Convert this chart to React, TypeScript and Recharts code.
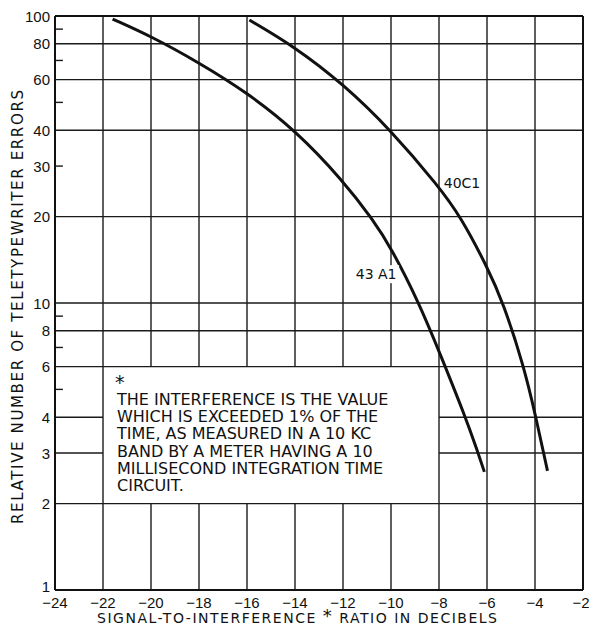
import React from 'react';
import { LineChart, Line, XAxis, YAxis, ReferenceLine, ReferenceArea, ReferenceDot } from 'recharts';

// 43 A1 curve
const A1_X = [-21.6, -20, -18, -16, -14, -12, -10.75, -10, -8.83, -8, -6.92, -6.4, -6.11];
const A1_Y = [97.6, 85, 68.8, 54.1, 40.1, 26.7, 19.5, 15.6, 10, 6.8, 4.05, 3.05, 2.58];

// 40 C1 curve
const C1_X = [-15.9, -14, -12, -10, -8, -7.1, -6, -5.32, -4.46, -4, -3.48];
const C1_Y = [96.8, 78, 58, 40, 25.4, 20, 13.4, 10, 6, 4.13, 2.6];

const X_TICKS = [-24, -22, -20, -18, -16, -14, -12, -10, -8, -6, -4, -2];
const Y_TICKS = [1, 2, 3, 4, 6, 8, 10, 20, 30, 40, 60, 80, 100];
const Y_MINOR = [5, 7, 9, 30, 50, 70, 90];
const Y_GRID_FULL = [2, 6, 8, 10, 20, 40, 60, 80];
const Y_GRID_PARTIAL = [3, 4];
const X_GRID_FULL = [-22, -8, -6, -4];
const X_GRID_SPLIT = [-20, -18, -16, -14, -12, -10];

const NOTE_LINES = [
  'THE INTERFERENCE IS THE VALUE',
  'WHICH IS EXCEEDED 1% OF THE',
  'TIME, AS MEASURED IN A 10 KC',
  'BAND BY A METER HAVING A 10',
  'MILLISECOND INTEGRATION TIME',
  'CIRCUIT.',
];

const a1Data = A1_X.map((x, i) => ({ x, y: A1_Y[i] }));
const c1Data = C1_X.map((x, i) => ({ x, y: C1_Y[i] }));

const FONT = '"Liberation Sans", Arial, sans-serif';
const WIDE = '"DejaVu Sans", sans-serif';
const INK = '#111';
const GRID = { stroke: '#1a1a1a', strokeWidth: 1.4 };

const fmtX = (v: number) => (v < 0 ? `\u2212${Math.abs(v)}` : String(v));

function renderYTick({ x, y, payload }: any) {
  // the "1" sits on the bottom frame, lifted above the x labels
  const ty = payload.value === 1 ? y - 4 : y;
  return (
    <text x={x} y={ty} textAnchor="end" dominantBaseline="central" fontFamily={FONT} fontSize={15} fill={INK}>
      {payload.value}
    </text>
  );
}

function renderNote({ viewBox }: any) {
  const { x, y } = viewBox;
  return (
    <g fontFamily={WIDE} fill={INK}>
      <text x={x + 12} y={y + 22} fontSize={19}>*</text>
      {NOTE_LINES.map((line, i) => (
        <text key={i} x={x + 14} y={y + 38 + i * 17.3} fontSize={16}>
          {line}
        </text>
      ))}
    </g>
  );
}

const curveLabel = (text: string, bg: boolean) => ({ viewBox }: any) => {
  const { x, y } = viewBox;
  return (
    <g>
      {bg && <rect x={x - 23} y={y - 9} width={46} height={18} fill="#fff" />}
      <text x={x} y={y} textAnchor="middle" dominantBaseline="central" fontFamily={WIDE} fontSize={14} fill={INK}>
        {text}
      </text>
    </g>
  );
};

export default function App() {
  return (
    <div style={{ position: 'absolute', left: 0, top: 0, width: 589, height: 626, background: '#fff' }}>
      <LineChart width={589} height={626} margin={{ top: 16, right: 6, bottom: 6, left: 0 }}>
        <XAxis
          type="number"
          dataKey="x"
          domain={[-24, -2]}
          ticks={X_TICKS}
          tickFormatter={fmtX}
          allowDataOverflow
          axisLine={false}
          tickLine={false}
          tickSize={0}
          tickMargin={7}
          height={30}
          tick={{ fontSize: 15, fill: INK, fontFamily: FONT }}
        />
        <YAxis
          type="number"
          dataKey="y"
          scale="log"
          domain={[1, 100]}
          ticks={Y_TICKS}
          allowDataOverflow
          axisLine={false}
          tickLine={false}
          tickSize={0}
          tickMargin={5}
          width={55}
          tick={renderYTick}
        />

        {/* grid */}
        {Y_GRID_FULL.map((v) => <ReferenceLine key={`h${v}`} y={v} {...GRID} />)}
        {Y_GRID_PARTIAL.map((v) => (
          <ReferenceLine key={`hl${v}`} segment={[{ x: -24, y: v }, { x: -22, y: v }]} {...GRID} />
        ))}
        {Y_GRID_PARTIAL.map((v) => (
          <ReferenceLine key={`hr${v}`} segment={[{ x: -8, y: v }, { x: -2, y: v }]} {...GRID} />
        ))}
        {X_GRID_FULL.map((v) => <ReferenceLine key={`v${v}`} x={v} {...GRID} />)}
        {X_GRID_SPLIT.map((v) => (
          <ReferenceLine key={`vb${v}`} segment={[{ x: v, y: 1 }, { x: v, y: 2 }]} {...GRID} />
        ))}
        {X_GRID_SPLIT.map((v) => (
          <ReferenceLine key={`vt${v}`} segment={[{ x: v, y: 6 }, { x: v, y: 100 }]} {...GRID} />
        ))}
        {Y_MINOR.map((v) => (
          <ReferenceLine key={`m${v}`} segment={[{ x: -24, y: v }, { x: -23.67, y: v }]} {...GRID} />
        ))}

        {/* frame */}
        <ReferenceLine x={-24} stroke={INK} strokeWidth={2} />
        <ReferenceLine x={-2} stroke={INK} strokeWidth={2} />
        <ReferenceLine y={1} stroke={INK} strokeWidth={2} />
        <ReferenceLine y={100} stroke={INK} strokeWidth={2} />

        {/* footnote box */}
        <ReferenceArea x1={-22} x2={-8} y1={2} y2={6} fill="none" stroke="none" label={renderNote} />

        <Line data={a1Data} dataKey="y" type="basis" stroke={INK} strokeWidth={3} dot={false} activeDot={false} isAnimationActive={false} />
        <Line data={c1Data} dataKey="y" type="basis" stroke={INK} strokeWidth={3} dot={false} activeDot={false} isAnimationActive={false} />

        <ReferenceDot x={-10.62} y={12.6} r={0} label={curveLabel('43 A1', true)} />
        <ReferenceDot x={-7.04} y={26.2} r={0} label={curveLabel('40C1', false)} />
      </LineChart>

      <svg width={589} height={626} style={{ position: 'absolute', left: 0, top: 0, pointerEvents: 'none' }}>
        <text
          transform="translate(18,307) rotate(-90)"
          textAnchor="middle"
          dominantBaseline="central"
          fontFamily={WIDE}
          fontSize={15}
          fill={INK}
          textLength={434}
          lengthAdjust="spacing"
        >
          RELATIVE NUMBER OF TELETYPEWRITER ERRORS
        </text>
        <text
          x={297}
          y={623}
          textAnchor="middle"
          fontFamily={WIDE}
          fontSize={14}
          fill={INK}
          textLength={400}
          lengthAdjust="spacing"
        >
          SIGNAL-TO-INTERFERENCE <tspan fontSize={18} dy={-1}>*</tspan><tspan dy={1}> RATIO IN DECIBELS</tspan>
        </text>
      </svg>
    </div>
  );
}
